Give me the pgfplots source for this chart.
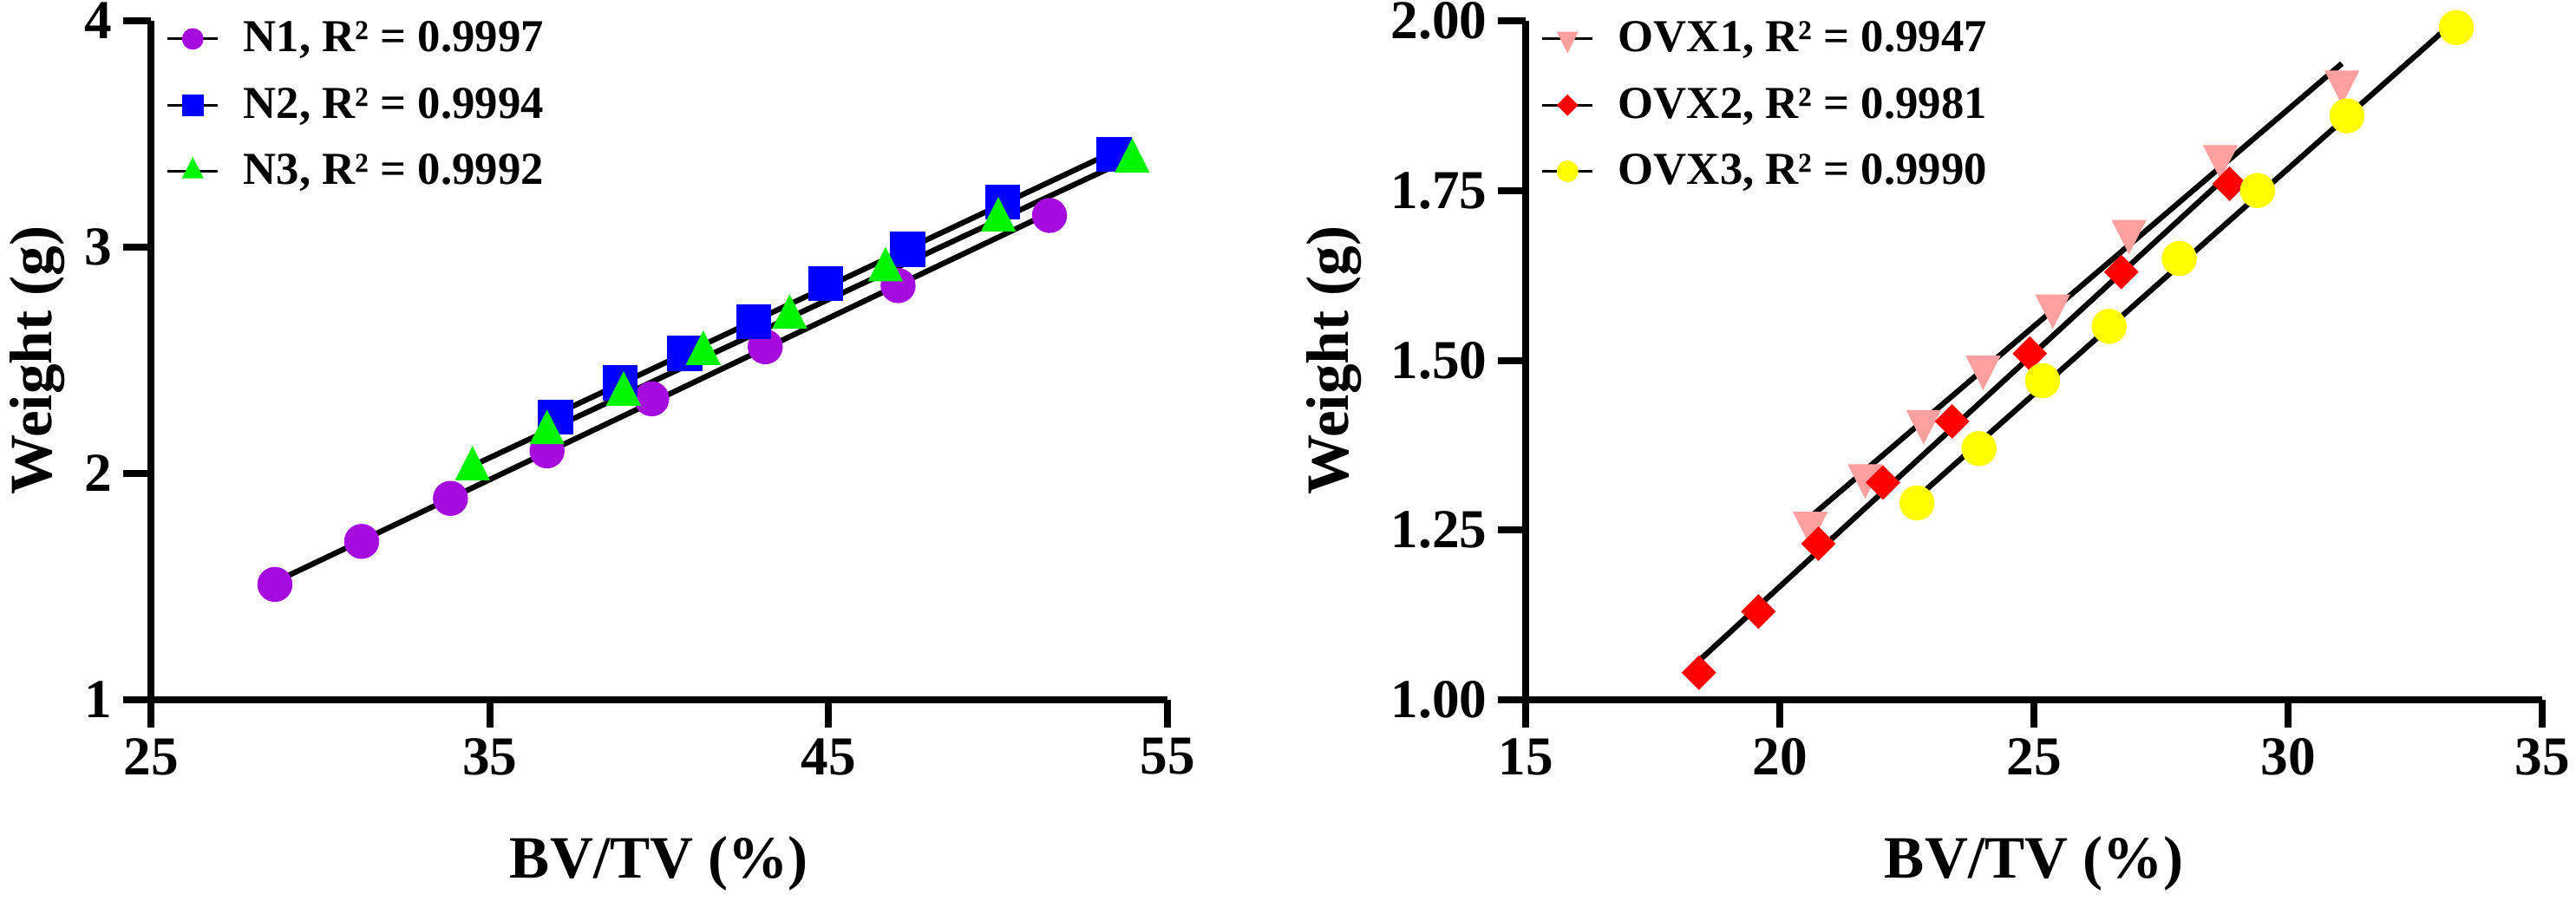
\documentclass[border=0pt]{standalone}
\usepackage{fontspec}
\setmainfont{Liberation Serif}
\usepackage{pgfplots}
\usepackage{pgfplotstable}
\pgfplotsset{compat=1.18}
\definecolor{cNone}{HTML}{A50ADF}
\definecolor{cNtwo}{HTML}{0000FF}
\definecolor{cNthree}{HTML}{00F500}
\definecolor{cOone}{HTML}{FFA0A0}
\definecolor{cOtwo}{HTML}{FF0000}
\definecolor{cOthree}{HTML}{FFFF00}

\pgfplotstableread{
x y
28.66 1.51
31.22 1.70
33.84 1.89
36.69 2.10
39.78 2.33
43.13 2.56
47.05 2.83
51.52 3.14
}\tabNone
\pgfplotstableread{
x y
36.94 2.25
38.85 2.40
40.75 2.53
42.79 2.67
44.92 2.84
47.33 2.99
50.14 3.20
53.43 3.41
}\tabNtwo
\pgfplotstableread{
x y
34.49 2.02
36.69 2.18
38.95 2.35
41.30 2.53
43.85 2.69
46.68 2.90
50.01 3.12
53.96 3.38
}\tabNthree
\pgfplotstableread{
x y
20.60 1.26
21.68 1.33
22.83 1.41
24.00 1.49
25.37 1.58
26.87 1.69
28.67 1.80
31.06 1.91
}\tabOone
\pgfplotstableread{
x y
18.41 1.04
19.58 1.13
20.76 1.23
22.03 1.32
23.39 1.41
24.92 1.51
26.72 1.63
28.85 1.76
}\tabOtwo
\pgfplotstableread{
x y
22.70 1.29
23.92 1.37
25.17 1.47
26.48 1.55
27.86 1.65
29.40 1.75
31.16 1.86
33.31 1.99
}\tabOthree

\pgfplotsset{
 myaxis/.style={
  scale only axis, width=117.2mm, height=78.3mm,
  axis x line*=bottom, axis y line*=left,
  axis line style={line width=0.8mm, black},
  tick align=outside,
  major tick length=3.2mm,
  tick style={black, line width=0.8mm},
  tick label style={font=\fontsize{18}{18}\selectfont\bfseries},
  /pgf/number format/assume math mode=true,
  label style={font=\fontsize{19.7}{20}\selectfont\bfseries},
  xlabel={BV/TV (\%)},
  ylabel={Weight (g)},
  xlabel style={at={(axis description cs:0.5,-0.263)}, anchor=base},
  clip=false,
  legend cell align=left,
  legend style={draw=none, fill=none, at={(axis description cs:0,1)}, anchor=north west,
    xshift=1.7mm, yshift=0.5mm, inner sep=0pt, row sep=2.6mm,
    font=\fontsize{15}{15}\selectfont\bfseries, nodes={inner sep=0.5mm},
    /tikz/every odd column/.append style={column sep=2.3mm}},
 },
 fitline/.style={black, line width=1.8pt, forget plot},
 legimg/.style={legend image code/.code={\draw[black,line width=0.9pt] (0mm,0mm) -- (5.8mm,0mm); \draw[##1,every mark/.append style={scale=0.6}] plot coordinates {(2.9mm,0mm)};}},
}

\begin{document}
\begin{tikzpicture}
\useasboundingbox (0,0) rectangle (297mm,103.8mm);
\begin{axis}[myaxis, at={(17.4mm,23.1mm)}, anchor=south west,
  xmin=25, xmax=55, ymin=1, ymax=4,
  xtick={25,35,45,55}, ytick={1,2,3,4},
  ylabel style={at={(axis description cs:-0.0973,0.5)}, anchor=base}]
\addplot[fitline] table[x=x, y={create col/linear regression={y=y}}] {\tabNone};
\addplot[fitline] table[x=x, y={create col/linear regression={y=y}}] {\tabNtwo};
\addplot[fitline] table[x=x, y={create col/linear regression={y=y}}] {\tabNthree};
\addplot[only marks, legimg, color=cNone, mark=*, mark size=1.95mm] table[x=x,y=y] {\tabNone};
\addlegendentry{N1, R² = 0.9997}
\addplot[only marks, legimg, color=cNtwo, mark=square*, mark size=1.95mm] table[x=x,y=y] {\tabNtwo};
\addlegendentry{N2, R² = 0.9994}
\addplot[only marks, legimg, color=cNthree, mark=triangle*, mark size=2.5mm, mark options={xscale=0.88}] table[x=x,y=y] {\tabNthree};
\addlegendentry{N3, R² = 0.9992}
\end{axis}
\begin{axis}[myaxis, at={(175.9mm,23.1mm)}, anchor=south west,
  xmin=15, xmax=35, ymin=1, ymax=2,
  xtick={15,20,25,30,35}, ytick={1,1.25,1.5,1.75,2},
  yticklabel style={/pgf/number format/.cd, fixed, fixed zerofill, precision=2},
  ylabel style={at={(axis description cs:-0.1748,0.5)}, anchor=base}]
\addplot[fitline] table[x=x, y={create col/linear regression={y=y}}] {\tabOone};
\addplot[fitline] table[x=x, y={create col/linear regression={y=y}}] {\tabOtwo};
\addplot[fitline] table[x=x, y={create col/linear regression={y=y}}] {\tabOthree};
\addplot[only marks, legimg, color=cOone, mark=triangle*, mark size=2.5mm, mark options={rotate=180, xscale=0.88}] table[x=x,y=y] {\tabOone};
\addlegendentry{OVX1, R² = 0.9947}
\addplot[only marks, legimg, color=cOtwo, mark=square*, mark size=1.34mm, mark options={rotate=45}] table[x=x,y=y] {\tabOtwo};
\addlegendentry{OVX2, R² = 0.9981}
\addplot[only marks, legimg, color=cOthree, mark=*, mark size=1.95mm] table[x=x,y=y] {\tabOthree};
\addlegendentry{OVX3, R² = 0.9990}
\end{axis}
\end{tikzpicture}
\end{document}
